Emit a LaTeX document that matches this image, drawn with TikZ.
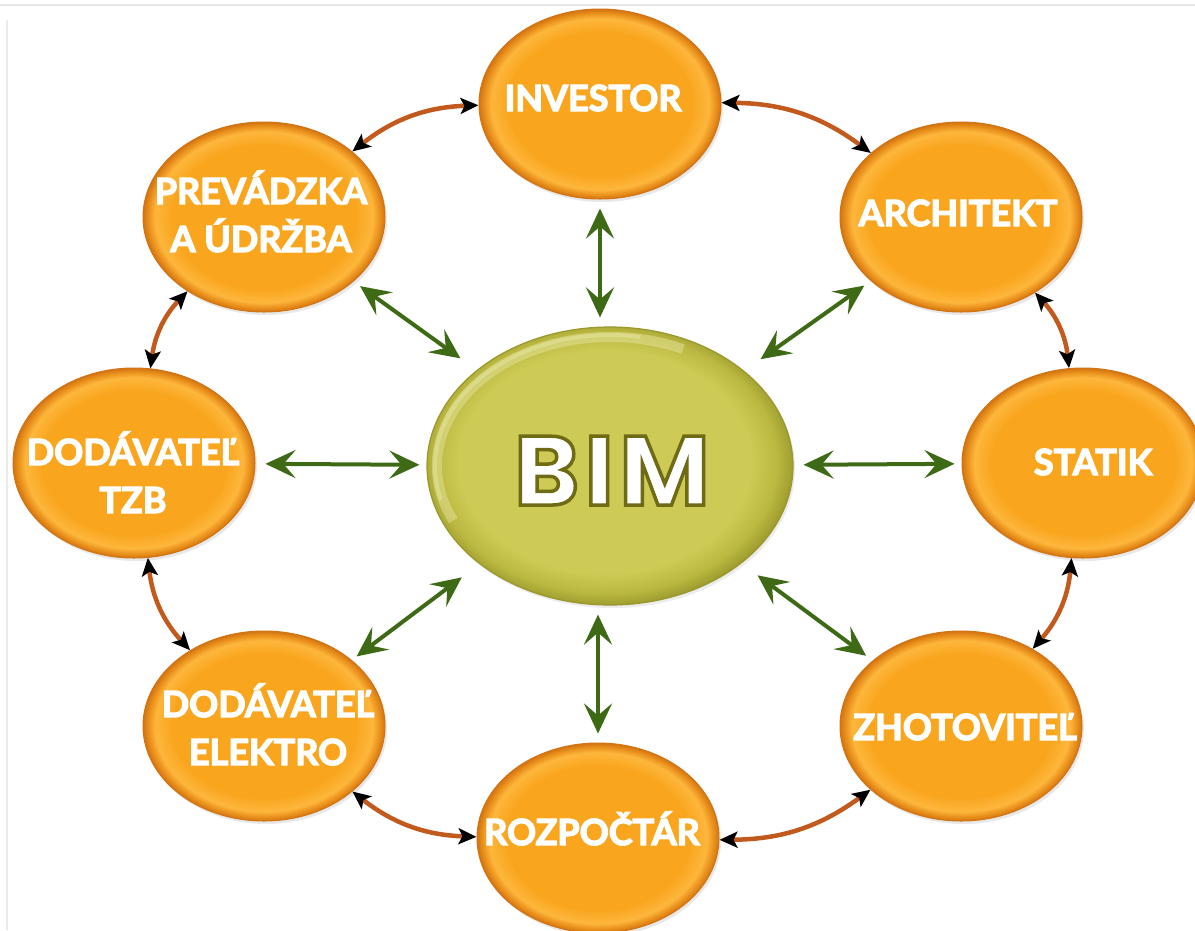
\documentclass[tikz,border=0pt]{standalone}
\usepackage{fontspec}
\setmainfont{Lato}
\newfontfamily\bimfont{Poppins}[LetterSpace=6]
\usetikzlibrary{shapes.geometric,arrows.meta,shadows,calc}
\definecolor{orA}{HTML}{F9A61E}
\definecolor{orL}{HTML}{FDB63C}
\definecolor{orD}{HTML}{E88F1A}
\definecolor{orE}{HTML}{D27414}
\definecolor{ringc}{HTML}{C25A1E}
\definecolor{greenc}{HTML}{3E6A16}
\definecolor{bimA}{HTML}{CDCB55}
\definecolor{bimM}{HTML}{BAB840}
\definecolor{bimD}{HTML}{9A982C}
\definecolor{bimL}{HTML}{EEEDB0}
\pgfdeclareradialshading{orbshade}{\pgfpoint{0bp}{0bp}}{color(0bp)=(orA); color(19bp)=(orA); color(22.5bp)=(orL); color(24bp)=(orD); color(25bp)=(orE); color(50bp)=(orE)}
\pgfdeclareradialshading{bimshade}{\pgfpoint{-1.2bp}{1.2bp}}{color(0bp)=(bimA); color(20bp)=(bimA); color(23.5bp)=(bimM); color(26bp)=(bimD); color(50bp)=(bimD)}
\newcommand\heavytxt[1]{\special{pdf:literal direct 2 Tr 1.3 w 1 1 1 RG}#1\special{pdf:literal direct 0 Tr}}
\tikzset{
  orb/.style={ellipse, minimum width=242pt, minimum height=190pt, inner sep=0pt,
    shading=orbshade, draw=orE, line width=1pt,
    drop shadow={opacity=0.18, shadow xshift=2pt, shadow yshift=-3pt}},
  lbl/.style={text=white, font=\fontsize{36}{48}\selectfont\bfseries, align=center,
    anchor=base, inner sep=0pt},
  ring/.style={draw=ringc, line width=4.5pt,
    {Stealth[length=18pt,width=16pt,inset=4pt,color=black]}-{Stealth[length=18pt,width=16pt,inset=4pt,color=black]}},
  link/.style={draw=greenc, line width=4pt,
    {Stealth[length=30pt,width=28pt,inset=12pt]}-{Stealth[length=30pt,width=28pt,inset=12pt]}}
}
\begin{document}
\begin{tikzpicture}[x=1pt,y=-1pt]
\useasboundingbox (0,0) rectangle (1195,930);
\fill[white] (0,0) rectangle (1195,930);
\draw[black!10, line width=1.5pt] (0,5) -- (1195,5);
\draw[black!8, line width=1.5pt] (7,20) -- (7,930);
% outer nodes
\node[orb] (inv)  at (600,104) {};
\node[orb] (arch) at (961,217) {};
\node[orb] (stat) at (1083,463) {};
\node[orb] (zho)  at (961,726) {};
\node[orb] (roz)  at (598,838) {};
\node[orb] (elek) at (264,726) {};
\node[orb] (tzb)  at (134,463) {};
\node[orb] (prev) at (264,217) {};
% center
\node[ellipse, minimum width=366pt, minimum height=278pt, inner sep=0pt,
  shading=bimshade, draw=bimD, line width=1.2pt,
  drop shadow={opacity=0.15, shadow xshift=2pt, shadow yshift=-3pt}] (bim) at (610,466) {};
\draw[bimL, line width=10pt, opacity=0.4]
  ($(bim.center)+({173*cos(-205)},{129*sin(-205)})$) arc[start angle=-205, end angle=-65, x radius=173, y radius=129];
\draw[bimL, line width=4pt, opacity=0.4]
  ($(bim.center)+({175*cos(-195)},{131*sin(-195)})$) arc[start angle=-195, end angle=-80, x radius=175, y radius=131];
% labels
\node[lbl] (tinv)  at (593,111) {\heavytxt{INVESTOR}};
\node[lbl] (tarch) at (958,226) {\heavytxt{ARCHITEKT}};
\node[lbl] (tstat) at (1093,475) {\heavytxt{STATIK}};
\node[lbl] (tzho)  at (965,740) {\heavytxt{ZHOTOVITEĽ}};
\node[lbl] (troz)  at (592,845) {\heavytxt{ROZPOČTÁR}};
\node[lbl] (telek) at (268,765) {\heavytxt{DODÁVATEĽ\\ELEKTRO}};
\node[lbl] (ttzb)  at (133,513) {\heavytxt{DODÁVATEĽ\\TZB}};
\node[lbl] (tprev) at (261,252) {\heavytxt{PREVÁDZKA\\A ÚDRŽBA}};
\node[anchor=base, inner sep=0pt, text=white,
  font=\bimfont\bfseries\fontsize{98}{98}\selectfont] (tbim) at (612,505)
  {\special{pdf:literal direct 2 Tr 3.5 w 0.43 0.42 0.08 RG}BIM\special{pdf:literal direct 0 Tr}};
% ring connectors
\draw[ring] (inv)  to[bend right=18] (prev);
\draw[ring] (prev) to[bend right=18] (tzb);
\draw[ring] (tzb)  to[bend right=18] (elek);
\draw[ring] (elek) to[bend right=18] (roz);
\draw[ring] (roz)  to[bend right=18] (zho);
\draw[ring] (zho)  to[bend right=18] (stat);
\draw[ring] (stat) to[bend right=18] (arch);
\draw[ring] (arch) to[bend right=18] (inv);
% links to BIM
\draw[link, shorten <=9pt, shorten >=9pt] (inv) -- (inv |- bim.north);
\draw[link, shorten <=9pt, shorten >=9pt] (roz) -- (roz |- bim.south);
\draw[link, shorten <=7pt, shorten >=10pt] (stat) -- (bim);
\draw[link, shorten <=10pt, shorten >=7pt] (tzb) -- (bim);
\draw[link, shorten <=8pt, shorten >=20pt] (arch) -- (bim);
\draw[link, shorten <=8pt, shorten >=20pt] (zho) -- (bim);
\draw[link, shorten <=6pt, shorten >=22pt] (elek) -- (bim);
\draw[link, shorten <=8pt, shorten >=20pt] (prev) -- (bim);
\end{tikzpicture}
\end{document}
